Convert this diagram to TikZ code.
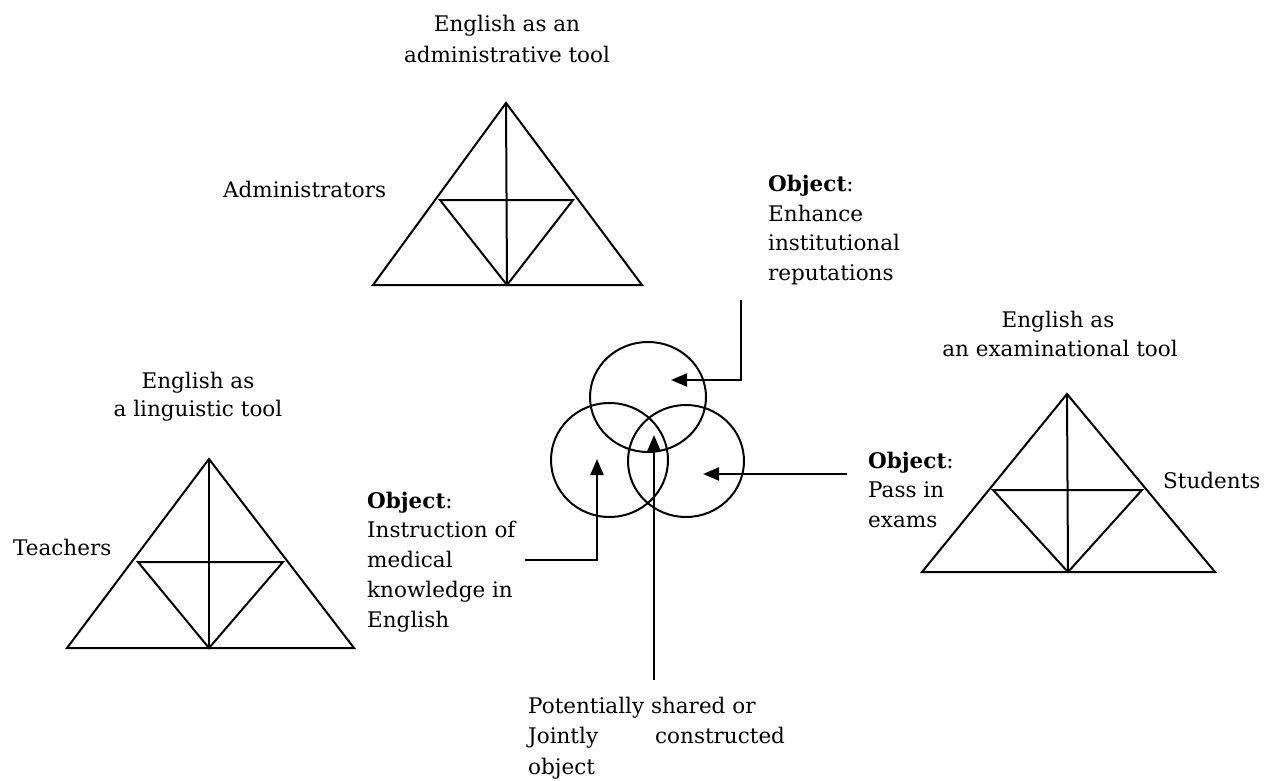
\documentclass[tikz,border=0pt]{standalone}
\usepackage{fontspec}
\setmainfont{DejaVu Serif}
\usetikzlibrary{arrows.meta}
\begin{document}
\begin{tikzpicture}[x=1pt,y=-1pt,
  ln/.style={line width=2pt, line join=miter},
  arr/.style={line width=2pt, -{Triangle[length=16pt,width=13pt]}},
  lbl/.style={inner sep=0pt, font=\fontsize{21.5}{29}\selectfont},
  lw/.style={lbl, anchor=base west},
  lc/.style={lbl, anchor=base},
]
\useasboundingbox (0,0) rectangle (1274,781);

% ---- top triangle (administrative)
\coordinate (Ta) at (506,103); \coordinate (Tl) at (373,285); \coordinate (Tr) at (642,285);
\coordinate (Til) at (440,200); \coordinate (Tir) at (573,200); \coordinate (Tb) at (507,285);
\draw[ln] (Ta) -- (Tl) -- (Tr) -- cycle;
\draw[ln] (Ta) -- (Tb);
\draw[ln] (Til) -- (Tir) -- (Tb) -- cycle;

% ---- left triangle (linguistic)
\coordinate (La) at (209,459); \coordinate (Ll) at (67,648); \coordinate (Lr) at (354,648);
\coordinate (Lil) at (138,562); \coordinate (Lir) at (283,562); \coordinate (Lb) at (209,648);
\draw[ln] (La) -- (Ll) -- (Lr) -- cycle;
\draw[ln] (La) -- (Lb);
\draw[ln] (Lil) -- (Lir) -- (Lb) -- cycle;

% ---- right triangle (examinational)
\coordinate (Ra) at (1067,394); \coordinate (Rl) at (922,572); \coordinate (Rr) at (1215,572);
\coordinate (Ril) at (993,490); \coordinate (Rir) at (1142,490); \coordinate (Rb) at (1068,572);
\draw[ln] (Ra) -- (Rl) -- (Rr) -- cycle;
\draw[ln] (Ra) -- (Rb);
\draw[ln] (Ril) -- (Rir) -- (Rb) -- cycle;

% ---- circles
\coordinate (Ct) at (648,397); \coordinate (Cl) at (609.5,460); \coordinate (Cr) at (686,461);
\draw[ln] (Ct) ellipse (58 and 55);
\draw[ln] (Cl) ellipse (58.5 and 57);
\draw[ln] (Cr) ellipse (58 and 56);

% ---- arrows
\coordinate (A1s) at (741,300); \coordinate (A1e) at (671,380);
\draw[arr] (A1s) |- (A1e);
\coordinate (A2s) at (847,474); \coordinate (A2e) at (703,474);
\draw[arr] (A2s) -- (A2e);
\coordinate (A3s) at (525,560); \coordinate (A3e) at (597,459);
\draw[arr] (A3s) -| (A3e);
\coordinate (A4s) at (654,680); \coordinate (A4e) at (654,435);
\draw[arr] (A4s) -- (A4e);

% ---- labels
\node[lc] (t1a) at (507,32) {English as an};
\node[lc] (t1b) at (507,63) {administrative tool};
\node[lw] (adm) at (223,197) {Administrators};

\node[lw] (o1a) at (768,191) {\textbf{Object}:};
\node[lw] (o1b) at (768,221) {Enhance};
\node[lw] (o1c) at (768,250) {institutional};
\node[lw] (o1d) at (768,280) {reputations};

\node[lc] (t3a) at (1058,327) {English as};
\node[lc] (t3b) at (1060,356) {an examinational tool};

\node[lc] (t2a) at (198,388) {English as};
\node[lc] (t2b) at (198,416) {a linguistic tool};
\node[lw] (tea) at (13,555) {Teachers};

\node[lw] (o2a) at (367,508) {\textbf{Object}:};
\node[lw] (o2b) at (367,537) {Instruction of};
\node[lw] (o2c) at (367,567) {medical};
\node[lw] (o2d) at (367,597) {knowledge in};
\node[lw] (o2e) at (367,627) {English};

\node[lw] (o3a) at (868,468) {\textbf{Object}:};
\node[lw] (o3b) at (868,497) {Pass in};
\node[lw] (o3c) at (868,527) {exams};
\node[lw] (stu) at (1163,488) {Students};

\node[lw] (b1) at (528,713) {Potentially shared or};
\node[lw] (b2) at (528,743) {Jointly};
\node[lw] (b2b) at (655,743) {constructed};
\node[lw] (b3) at (528,774) {object};
\end{tikzpicture}
\end{document}
